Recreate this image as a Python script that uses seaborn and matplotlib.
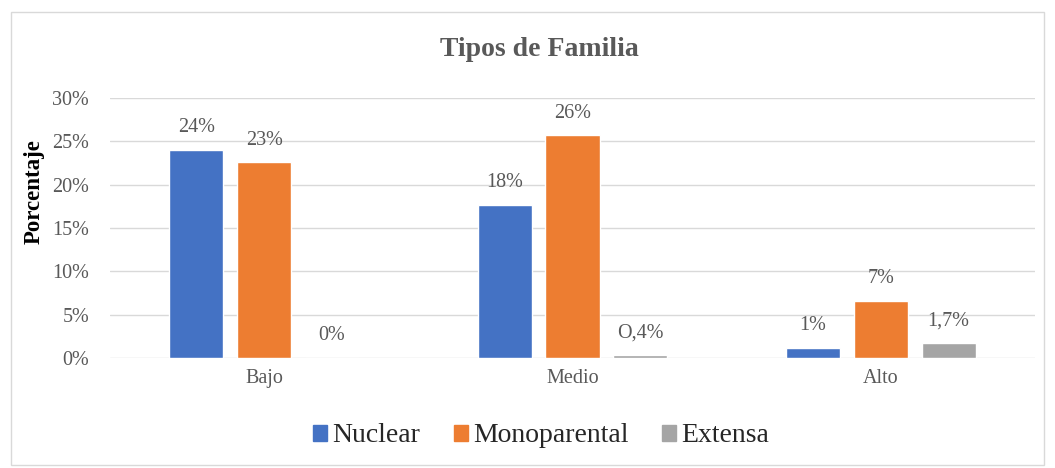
import matplotlib.pyplot as plt
import matplotlib.patches as mpatches
import pandas as pd
import seaborn as sns

CATEGORIES = ["Bajo", "Medio", "Alto"]
SERIES = ["Nuclear", "Monoparental", "Extensa"]
NUCLEAR = [24.0, 17.7, 1.2]
MONOPARENTAL = [22.6, 25.7, 6.6]
EXTENSA = [0.0, 0.35, 1.7]
LABELS = {
    "Nuclear": ["24%", "18%", "1%"],
    "Monoparental": ["23%", "26%", "7%"],
    "Extensa": ["0%", "O,4%", "1,7%"],
}
COLORS = ["#4472C4", "#ED7D31", "#A5A5A5"]
TEXT = "#595959"


def main() -> None:
    df = pd.DataFrame({"Nivel": CATEGORIES, "Nuclear": NUCLEAR,
                       "Monoparental": MONOPARENTAL, "Extensa": EXTENSA})
    df_long = df.melt(id_vars="Nivel", var_name="Tipo", value_name="Porcentaje")

    sns.set_theme(style="white")
    plt.rcParams["font.family"] = ["Liberation Serif", "DejaVu Serif"]

    fig = plt.figure(figsize=(10.55, 4.68), dpi=100)
    ax = fig.add_axes([110 / 1055, 1 - 358 / 468, 925 / 1055, 260 / 468])

    sns.barplot(data=df_long, x="Nivel", y="Porcentaje", hue="Tipo",
                hue_order=SERIES, palette=COLORS, width=0.66, gap=0.2,
                ax=ax, legend=False, saturation=1)

    for container, name in zip(ax.containers, SERIES):
        for bar, lab in zip(container, LABELS[name]):
            ax.annotate(lab, (bar.get_x() + bar.get_width() / 2, bar.get_height()),
                        xytext=(0, 9), textcoords="offset points",
                        ha="center", va="bottom", fontsize=14.5, color=TEXT)

    ax.set_xlim(-0.5, 2.5)
    ax.set_ylim(0, 30)
    ax.set_yticks(range(0, 31, 5))
    ax.set_yticklabels([f"{v}%" for v in range(0, 31, 5)])
    ax.yaxis.grid(True, color="#D9D9D9", linewidth=1)
    ax.set_axisbelow(True)
    for s in ax.spines.values():
        s.set_visible(False)
    ax.tick_params(axis="both", length=0, labelsize=14.5, colors=TEXT, pad=8)
    ax.tick_params(axis="y", pad=15)
    ax.set_xlabel("")
    ax.set_ylabel("Porcentaje", fontsize=16.5, fontweight="bold", color="black")
    ax.yaxis.set_label_coords(-0.071, 0.64)

    fig.text(0.511, 1 - 50 / 468, "Tipos de Familia", ha="center", va="center",
             fontsize=20, fontweight="bold", color=TEXT)

    handles = [mpatches.Patch(color=c, label=n) for c, n in zip(COLORS, SERIES)]
    fig.legend(handles=handles, loc="center", bbox_to_anchor=(0.513, 1 - 436 / 468),
               ncol=3, frameon=False, fontsize=20, handlelength=0.5, handleheight=0.5,
               handletextpad=0.2, columnspacing=1.2)

    fig.patches.append(mpatches.Rectangle((11 / 1055, 3 / 468), 1033 / 1055, 453 / 468,
                                          transform=fig.transFigure, fill=False,
                                          edgecolor="#D9D9D9", linewidth=1))
    fig.savefig("out.png", dpi=100)


if __name__ == "__main__":
    main()
